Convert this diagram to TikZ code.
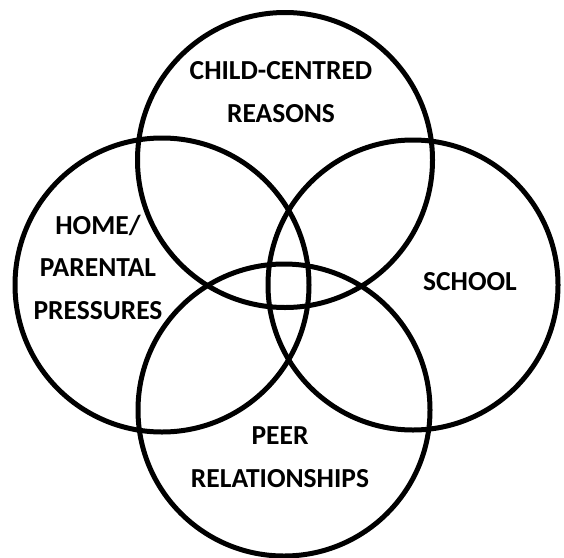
\documentclass[tikz,border=0pt]{standalone}
\usepackage{fontspec}
\setmainfont{Carlito}
\begin{document}
\begin{tikzpicture}[x=1pt,y=-1pt,
  ring/.style={draw=black,line width=5pt},
  lbl/.style={font=\bfseries\fontsize{27.5}{42.5}\selectfont,align=center,anchor=base,inner sep=0pt}]
\useasboundingbox (0,0) rectangle (564,557);
\coordinate (ctop) at (285,160);
\coordinate (cleft) at (162,285);
\coordinate (cright) at (413,285);
\coordinate (cbot) at (284,410);
\draw[ring] (ctop) circle (147.5);
\draw[ring] (cleft) circle (147);
\draw[ring] (cright) circle (145);
\draw[ring] (cbot) circle (146);
\node[lbl] (child) at (281,122) {CHILD-CENTRED\\REASONS};
\node[lbl] (home) at (98,319) {HOME/\\PARENTAL\\PRESSURES};
\node[lbl] (school) at (470,290) {SCHOOL};
\node[lbl] (peer) at (280,487) {PEER\\RELATIONSHIPS};
\end{tikzpicture}
\end{document}
